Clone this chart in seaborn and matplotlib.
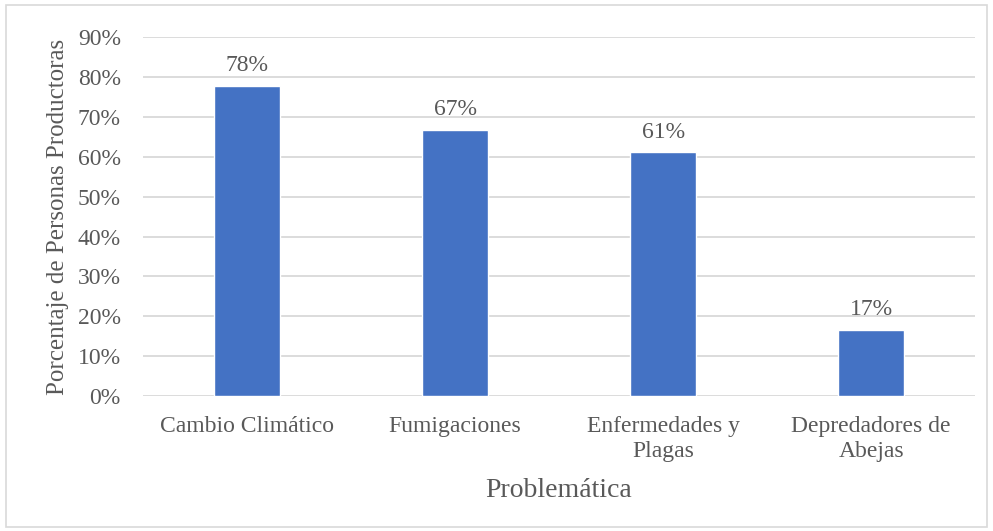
import matplotlib
matplotlib.use("Agg")
import matplotlib.pyplot as plt
import seaborn as sns
import pandas as pd
from matplotlib.patches import Rectangle
from matplotlib.ticker import PercentFormatter

categories = ["Cambio Climático", "Fumigaciones", "Enfermedades y\nPlagas", "Depredadores de\nAbejas"]
shares = [0.778, 0.667, 0.611, 0.167]
y_ticks = [0.0, 0.1, 0.2, 0.3, 0.4, 0.5, 0.6, 0.7, 0.8, 0.9]

df = pd.DataFrame({"problema": categories, "porcentaje": shares})

sns.set_theme(style="white")
plt.rcParams["font.family"] = ["Liberation Serif", "DejaVu Serif"]

text_color = "#595959"
grid_color = "#D9D9D9"
bar_color = "#4472C4"

fig = plt.figure(figsize=(9.93, 5.31), dpi=100)
ax = fig.add_axes([0.144, 0.254, 0.838, 0.676])

sns.barplot(data=df, x="problema", y="porcentaje", color=bar_color,
            saturation=1, width=0.32, ax=ax, zorder=3)

ax.set_ylim(0, 0.9)
ax.set_xlim(-0.5, len(categories) - 0.5)
ax.set_yticks(y_ticks)
ax.yaxis.set_major_formatter(PercentFormatter(1.0, decimals=0))
ax.grid(axis="y", color=grid_color, linewidth=1.3, zorder=0)
for s in ax.spines.values():
    s.set_visible(False)
ax.tick_params(axis="both", length=0, colors=text_color, labelsize=17)
ax.tick_params(axis="x", pad=14)
ax.tick_params(axis="y", pad=16)
for lbl in ax.get_xticklabels():
    lbl.set_linespacing(1.25)

for container in ax.containers:
    ax.bar_label(container, labels=[f"{v*100:.0f}%" for v in shares],
                 padding=7, color=text_color, fontsize=17)

ax.set_xlabel("Problemática", color=text_color, fontsize=20, labelpad=12)
ax.set_ylabel("Porcentaje de Personas Productoras", color=text_color, fontsize=18, labelpad=6)

fig.patches.append(Rectangle((0.006, 0.008), 0.988, 0.982, transform=fig.transFigure,
                             fill=False, edgecolor=grid_color, linewidth=1.2))

fig.savefig("out.png", dpi=100, facecolor="white")
